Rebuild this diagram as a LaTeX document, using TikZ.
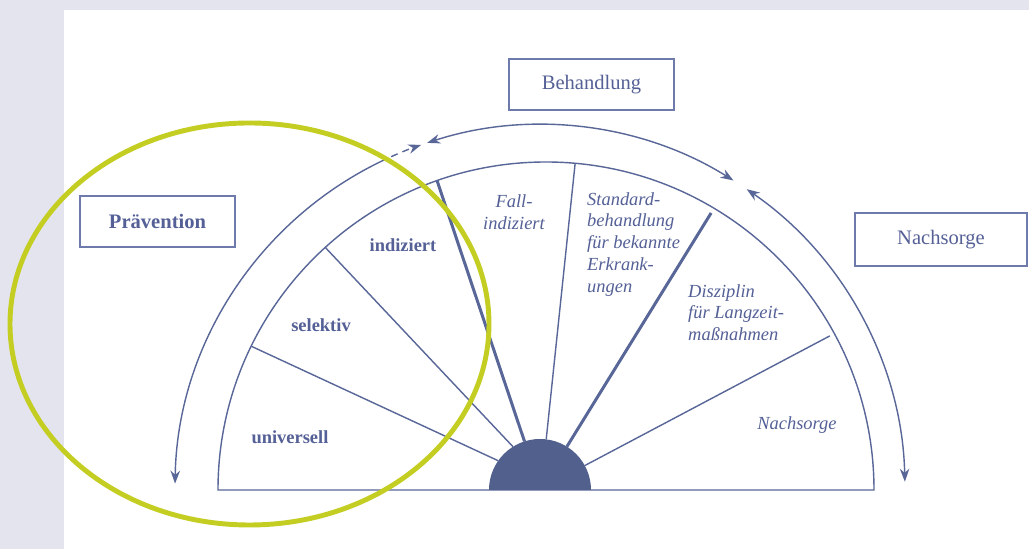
\documentclass[tikz,border=0pt]{standalone}
\usepackage{fontspec}
\setmainfont{Liberation Serif}
\usetikzlibrary{arrows.meta,positioning}
\definecolor{linie}{RGB}{88,102,152}
\definecolor{kern}{RGB}{82,96,141}
\definecolor{schrift}{RGB}{84,96,150}
\definecolor{rahmen}{RGB}{110,122,172}
\definecolor{hinter}{RGB}{228,228,238}
\definecolor{gruen}{RGB}{196,206,34}

\begin{document}
\begin{tikzpicture}[>={Stealth[length=2.6mm,width=1.9mm]},
  kasten/.style={draw=rahmen,line width=0.7pt,minimum height=1.02cm,text=schrift,font=\fontsize{11.7}{14}\selectfont},
  sektor/.style={text=schrift,font=\fontsize{10.5}{12.5}\selectfont\bfseries},
  kursiv/.style={text=schrift,font=\fontsize{10.5}{12.5}\selectfont\itshape,align=left},
  bogen/.style={draw=linie,line width=0.8pt}]
  \useasboundingbox (-10.8,-1.18) rectangle (9.78,9.8);
  \fill[hinter] (-10.8,-1.18) rectangle (9.78,9.8);
  \fill[white] (-9.52,-1.18) rectangle (9.78,9.6);

  % half disc with its sectors
  \draw[linie,line width=0.8pt] (6.68,0) arc[start angle=0,end angle=180,radius=6.56] -- cycle;
  \foreach \a/\b/\r/\w in {154/145/6.56/0.8pt, 132.3/122/6.56/0.8pt, 109.4/107.7/6.56/1.7pt,
                           84.9/83/6.56/0.8pt, 59.2/58.2/6.45/1.7pt, 28.5/28.6/6.46/0.8pt}
    \draw[linie,line width=\w] ([shift={(0.12,0)}]\a:\r) -- (\b:1.02);
  \fill[kern] (1.02,0) arc[start angle=0,end angle=180,radius=1.02] -- cycle;

  \node[sektor] (univ) at (-5.0,1.06) {universell};
  \node[sektor] (selek) at (-4.38,3.30) {selektiv};
  \node[sektor] (indiz) at (-2.74,4.90) {indiziert};
  \node[kursiv,align=center] (fall) at (-0.52,5.56) {Fall-\\indiziert};
  \node[kursiv,anchor=north west] (stand) at (0.82,6.08) {Standard-\\behandlung\\für bekannte\\Erkrank-\\ungen};
  \node[kursiv,anchor=north west] (diszi) at (2.84,4.24) {Disziplin\\für Langzeit-\\maßnahmen};
  \node[kursiv] (nachs) at (5.14,1.30) {Nachsorge};

  % phases around it
  \node[kasten,minimum width=3.3cm] (behand) at (1.03,8.11) {Behandlung};
  \node[kasten,minimum width=3.44cm,minimum height=1.06cm] (nachsorge) at (8.02,5.01) {Nachsorge};
  \node[kasten,minimum width=3.1cm,font=\fontsize{11.7}{14}\selectfont\bfseries] (praev) at (-7.65,5.37) {Prävention};

  \draw[bogen,<-] (179:7.3) arc[start angle=179,end angle=116,radius=7.3];
  \draw[bogen,dash pattern=on 4pt off 3pt,->] (116:7.3) arc[start angle=116,end angle=109,radius=7.3];
  \draw[bogen,<->] (108:7.3) arc[start angle=108,end angle=58,radius=7.3];
  \draw[bogen,<->] (55.5:7.3) arc[start angle=55.5,end angle=1.3,radius=7.3];

  \draw[gruen,line width=2.8pt] (-5.81,3.32) ellipse (4.79 and 4.02);
\end{tikzpicture}
\end{document}
